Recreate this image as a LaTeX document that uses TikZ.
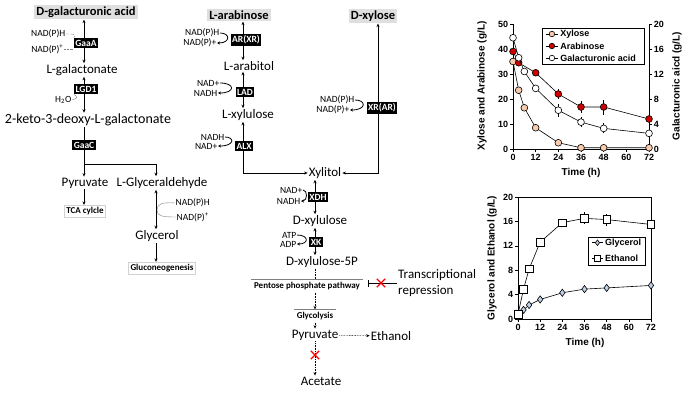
\documentclass[tikz,border=0pt]{standalone}
\usepackage{fontspec}
\setmainfont{Carlito}
\newfontfamily\chartfont{Liberation Sans}
\usetikzlibrary{positioning, arrows.meta, shapes.misc, plotmarks}
\definecolor{xylcol}{RGB}{248,203,173}
\definecolor{aracol}{RGB}{204,0,0}
\definecolor{glycol}{RGB}{189,207,232}
\tikzset{
sugar/.style={fill=gray!25, inner sep=2pt, font=\fontsize{12.5}{14}\selectfont\bfseries},
metab/.style={inner sep=1pt, font=\fontsize{13}{15}\selectfont},
enzyme/.style={fill=black, text=white, inner sep=1.5pt, font=\fontsize{9.5}{10}\selectfont\bfseries},
cofac/.style={inner sep=0.5pt, font=\fontsize{9.5}{10}\selectfont},
fate/.style={draw=gray!35, inner sep=2pt, font=\fontsize{9}{10}\selectfont\bfseries},
stage/.style={inner sep=2.5pt, font=\fontsize{9}{10}\selectfont\bfseries},
rxn/.style={semithick, {Stealth[length=3.5pt, width=3pt]}-{Stealth[length=3.5pt, width=3pt]}},
fwd/.style={semithick, -{Stealth[length=3.5pt, width=3pt]}},
dotfwd/.style={semithick, densely dotted, -{Stealth[length=3.5pt, width=3pt]}},
cof/.style={thick, -{Stealth[length=3pt, width=3pt]}},
blocked/.style={cross out, draw=red, line width=1.3pt, minimum size=7pt, inner sep=0},
ticklab/.style={inner sep=1.5pt, font=\chartfont\bfseries\fontsize{9}{10}\selectfont},
axtitle/.style={inner sep=0, font=\chartfont\bfseries\fontsize{10}{12}\selectfont},
legtext/.style={anchor=west, inner sep=0, font=\chartfont\bfseries\fontsize{9}{10}\selectfont}}

\begin{document}
\begin{tikzpicture}[x=1pt, y=-1pt]
\useasboundingbox (0, 0) rectangle (700, 396);

% D-galacturonic acid branch
\node [sugar] at (86, 12) (galA) {D-galacturonic acid};
\node [metab] at (82, 70) (galonate) {L-galactonate};
\node [metab, font=\fontsize{14}{15}\selectfont] at (88, 120) (kdg) {2-keto-3-deoxy-L-galactonate};
\node [metab] at (85, 183) (pyr-1) {Pyruvate};
\node [metab] at (162, 183) (glyald) {L-Glyceraldehyde};
\node [metab] at (157, 236) (glycerol) {Glycerol};
\node [fate] at (85, 211) (tca) {TCA cylcle};
\node [fate] at (162, 268) (gluco) {Gluconeogenesis};
\coordinate (galline) at (84, 0);
\coordinate (glyline) at (156, 0);
\coordinate (branch) at (84, 164);
\coordinate (glyc) at (157, 210);
\draw [rxn] (galline |- galA.south) -- (galline |- galonate.north);
\draw [rxn] (galline |- galonate.south) -- (galline |- kdg.north);
\draw [fwd] (galline |- kdg.south) -- (galline |- pyr-1.north);
\draw [fwd] (branch) -| (glyline |- glyald.north);
\draw [fwd] (galline |- pyr-1.south) -- (galline |- tca.north);
\draw [rxn] (glyline |- glyald.south) -- (glyline |- glycerol.north);
\draw [fwd] (glyline |- glycerol.south) -- (glyline |- gluco.north);
\node [enzyme] at (86, 43) (gaaA) {GaaA};
\node [enzyme] at (86, 89) (lgd1) {LGD1};
\node [enzyme] at (84, 145) (gaaC) {GaaC};
\node [cofac, anchor=east] at (66, 34) (nadph-1) {NAD(P)H};
\node [cofac, anchor=east] at (64, 49) (nadp-1) {NAD(P)\textsuperscript{+}};
\node [cofac, anchor=east] at (72, 100) (h2o) {H\textsubscript{2}O};
\node [cofac, anchor=west] at (175, 203) (nadph-2) {NAD(P)H};
\node [cofac, anchor=west] at (176, 217) (nadp-2) {NAD(P)\textsuperscript{+}};
\draw [gray, densely dashed] (nadph-1.east) .. controls (76, 34) .. (gaaA.north west);
\draw [gray, densely dotted] (nadp-1.east) -- (gaaA.west |- nadp-1.east);
\draw [gray] (h2o.east) .. controls (78, 98) .. (lgd1.south west);
\draw [gray] (nadph-2.west) .. controls (162, 202) and (157, 204) .. (glyc)
  .. controls (157, 216) and (162, 217) .. (nadp-2.west);

% L-arabinose and D-xylose branch
\node [sugar] at (239, 15) (ara) {L-arabinose};
\node [metab] at (249, 66) (arabitol) {L-arabitol};
\node [metab] at (248, 115) (xylu-L) {L-xylulose};
\node [sugar] at (373, 16) (xyl) {D-xylose};
\node [metab] at (325, 173) (xylitol) {Xylitol};
\node [metab] at (320, 221) (xylu-D) {D-xylulose};
\node [metab] at (322, 262) (x5p) {D-xylulose-5P};
\coordinate (araline) at (243, 0);
\coordinate (xylline) at (378, 0);
\coordinate (pptline) at (315, 0);
\draw [rxn] (araline |- ara.south) -- (araline |- arabitol.north);
\draw [rxn] (araline |- arabitol.south) -- (araline |- xylu-L.north);
\draw [rxn, thick] (araline |- xylu-L.south) |- (xylitol.west);
\draw [rxn, thick] (xylline |- xyl.south) |- (xylitol.east);
\draw [rxn] (pptline |- xylitol.south) -- (pptline |- xylu-D.north);
\draw [rxn] (pptline |- xylu-D.south) -- (pptline |- x5p.north);
\node [enzyme] at (246, 40) (arxr) {AR(XR)};
\node [enzyme] at (245, 92) (lad) {LAD};
\node [enzyme] at (244, 146) (alx) {ALX};
\node [enzyme] at (382, 108) (xrar) {XR(AR)};
\node [enzyme] at (318, 197) (xdh) {XDH};
\node [enzyme] at (316, 242) (xk) {XK};
\foreach \enz/\ta/\ba/\tx/\ty/\bx/\by [count=\i] in {
    arxr/NAD(P)H/NAD(P)+/220/33/217/43, lad/NAD+/NADH/220/83/218/93,
    alx/NADH/NAD+/225/137/218/146, xrar/NAD(P)H/NAD(P)+/355/100/350/110,
    xdh/NAD+/NADH/303/190/301/201, xk/ATP/ADP/297/235/297/244}{
  \node [cofac, anchor=east] at (\tx, \ty) (cotop-\i) {\ta};
  \node [cofac, anchor=east] at (\bx, \by) (cobot-\i) {\ba};
  \draw [cof] (cotop-\i.east) .. controls (\enz.west |- cotop-\i.east) and (\enz.west |- cobot-\i.east) .. (cobot-\i.east);
}

\node [stage] at (307, 286) (ppp) {Pentose phosphate pathway};
\node [stage] at (315, 316) (glyco) {Glycolysis};
\node [metab] at (315, 335) (pyr-2) {Pyruvate};
\node [metab] at (391, 336) (etoh) {Ethanol};
\node [metab] at (321, 381) (acetate) {Acetate};
\node [metab, anchor=west, align=left, font=\fontsize{13}{16.5}\selectfont] at (397, 283) (repr) {Transcriptional\\repression};
\draw [gray] (ppp.north west) -- (ppp.north east);
\draw [gray] (glyco.north west) -- (glyco.north east);
\draw [semithick, densely dotted] (pptline |- x5p.south) -- (pptline |- ppp.north);
\draw [dotfwd] (pptline |- ppp.south) -- (pptline |- glyco.north);
\draw [dotfwd] (pptline |- glyco.south) -- (pptline |- pyr-2.north);
\draw [dotfwd] (pyr-2) -- (etoh);
\draw [dotfwd] (pptline |- pyr-2.south) -- (pptline |- acetate.north);
\draw [semithick, -{Bar[width=7pt]}, shorten >=5pt] (repr.west) -- (repr.west -| ppp.east);
\node [blocked] at (381, 283) (block-1) {};
\node [blocked] at (315, 355) (block-2) {};

% sugar consumption
\begin{scope}[shift={(513, 149)}, x=1.889pt, y=2.5pt]
\draw [semithick] (0, 50) -- (0, 0) -- (72, 0) -- (72, 50);
\foreach \v in {0, 10, ..., 50}
  \draw [semithick] (0, \v) -- ++(-3pt, 0) node [ticklab, left] (yl-\v) {\v};
\foreach \v [evaluate={\p=\v*2.5;}] in {0, 4, ..., 20}
  \draw [semithick] (72, \p) -- ++(3pt, 0) node [ticklab, right] (yr-\v) {\v};
\foreach \t in {0, 12, ..., 72}
  \draw [semithick] (\t, 0) -- ++(0, -3pt) node [ticklab, below] (xl-\t) {\t};
\node [axtitle] at (36, -9.6) (time-1) {Time (h)};
\node [axtitle, rotate=90] at (-16.4, 25.2) (ylab-1) {Xylose and Arabinose (g/L)};
\node [axtitle, rotate=90] at (86.8, 25.2) (ylab-2) {Galacturonic aicd (g/L)};
\foreach \t/\v/\e in {24/22/2, 36/16.8/2.5, 48/16.8/3, 24/15.5/2.5, 36/10.75/2, 48/8.25/2}
  \draw [semithick] (\t, \v-\e) -- (\t, \v+\e);
\draw [semithick] plot [mark=*, mark size=3.4pt, mark options={fill=xylcol}]
  coordinates {(0,35) (3,23.5) (6,16.5) (12,8.5) (24,2.5) (36,0.5) (48,0.5) (72,0.5)};
\draw [semithick] plot [mark=*, mark size=3.4pt, mark options={fill=aracol}]
  coordinates {(0,39) (3,34.5) (12,30.5) (24,22) (36,16.8) (48,16.8) (72,12)};
\draw [semithick] plot [mark=*, mark size=3.4pt, mark options={fill=white}]
  coordinates {(0,44.5) (3,36.5) (6,31) (12,24.25) (24,15.5) (36,10.75) (48,8.25) (72,6.25)};
\draw [semithick] (15.4, 34) rectangle (69.3, 48.4);
\foreach \lab/\col/\y [count=\i] in {Xylose/xylcol/46, Arabinose/aracol/41.2, Galacturonic acid/white/36.4}{
  \draw [semithick] (17.5, \y) -- (23.8, \y);
  \draw plot [mark=*, mark size=2.8pt, mark options={semithick, fill=\col}] coordinates {(20.6, \y)};
  \node [legtext] at (25, \y) (leg1-\i) {\lab};
}
\end{scope}

% fermentation products
\begin{scope}[shift={(518, 319)}, x=1.847pt, y=6.1pt]
\draw [semithick] (0, 0) rectangle (72, 20);
\foreach \v in {0, 4, ..., 20}
  \draw [semithick] (0, \v) -- ++(-3pt, 0) node [ticklab, left] (yl2-\v) {\v};
\foreach \t in {0, 12, ..., 72}
  \draw [semithick] (\t, 0) -- ++(0, -3pt) node [ticklab, below] (xl2-\t) {\t};
\node [axtitle] at (36.3, -3.9) (time-2) {Time (h)};
\node [axtitle, rotate=90] at (-14.1, 10) (ylab-3) {Glycerol and Ethanol (g/L)};
\foreach \t/\v/\e in {36/16.5/1, 48/16.2/1, 24/4.3/0.6, 36/4.9/0.6}
  \draw [semithick] (\t, \v-\e) -- (\t, \v+\e);
\draw [semithick] plot [mark=diamond*, mark size=3.6pt, mark options={fill=glycol}]
  coordinates {(0,0.4) (3,1.5) (6,2.3) (12,3.2) (24,4.3) (36,4.9) (48,5.1) (72,5.5)};
\draw [semithick] plot [mark=square*, mark size=3.8pt, mark options={fill=white}]
  coordinates {(0,0.8) (3,4.9) (6,8.2) (12,12.6) (24,15.8) (36,16.5) (48,16.3) (72,15.5)};
\draw [semithick] (37.9, 8.85) rectangle (68.8, 13.4);
\foreach \lab/\mk/\col/\y [count=\i] in {Glycerol/diamond*/glycol/12.5, Ethanol/square*/white/10}{
  \draw [semithick] (40.1, \y) -- (46, \y);
  \draw plot [mark=\mk, mark size=2.8pt, mark options={semithick, fill=\col}] coordinates {(43, \y)};
  \node [legtext] at (47.1, \y) (leg2-\i) {\lab};
}
\end{scope}
\end{tikzpicture}
\end{document}
